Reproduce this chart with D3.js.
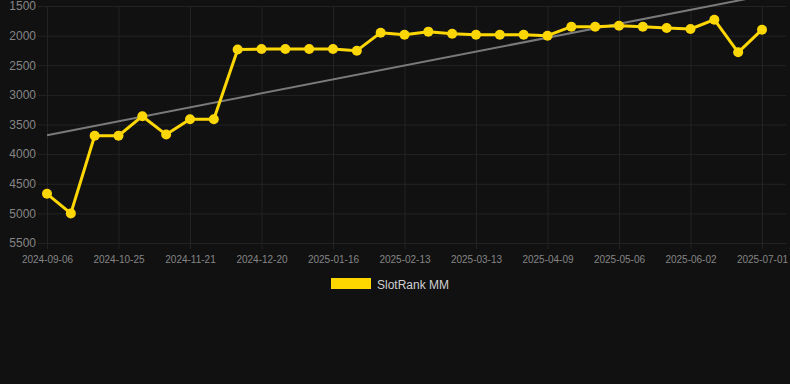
<!DOCTYPE html>
<html>
<head>
<meta charset="utf-8">
<script src="https://cdn.jsdelivr.net/npm/d3@7"></script>
<style>
  html, body { margin: 0; padding: 0; background: #111111; }
  svg { display: block; font-family: "Liberation Sans", Arial, Helvetica, sans-serif; }
</style>
</head>
<body>
<svg id="chart" width="790" height="384"></svg>
<script>
// ---- data ----
const categories = [
  "2024-09-06","2024-09-22","2024-10-09","2024-10-25","2024-11-03","2024-11-12",
  "2024-11-21","2024-11-30","2024-12-10","2024-12-20","2024-12-29","2025-01-07",
  "2025-01-16","2025-01-25","2025-02-04","2025-02-13","2025-02-22","2025-03-04",
  "2025-03-13","2025-03-22","2025-03-31","2025-04-09","2025-04-18","2025-04-27",
  "2025-05-06","2025-05-15","2025-05-24","2025-06-02","2025-06-11","2025-06-20",
  "2025-07-01"
];
const rankValues = [
  4670, 5000, 3690, 3690, 3360, 3670, 3410, 3410, 2235, 2226, 2226, 2226,
  2226, 2254, 1950, 1984, 1933, 1967, 1984, 1984, 1984, 2001, 1849, 1849,
  1832, 1849, 1871, 1888, 1731, 2282, 1900
];
const trendStart = 3680;   // trend value at first category
const trendEnd = 1330;     // trend value at last category
const xTickLabels = [
  "2024-09-06","2024-10-25","2024-11-21","2024-12-20","2025-01-16","2025-02-13",
  "2025-03-13","2025-04-09","2025-05-06","2025-06-02","2025-07-01"
];
const yTicks = [1500, 2000, 2500, 3000, 3500, 4000, 4500, 5000, 5500];
const seriesName = "SlotRank MM";

// ---- layout ----
const svg = d3.select("#chart");
const areaLeft = 47, areaRight = 762, areaTop = 6, areaBottom = 243;
const gridRight = 786, gridLeft = 38, tickBottom = 249;
const yellow = "#FFD700";

const x = d3.scalePoint().domain(categories).range([areaLeft, areaRight]);
const y = d3.scaleLinear().domain([1500, 5500]).range([areaTop, areaBottom]);

// y axis + horizontal grid
const yAxis = d3.axisLeft(y).tickValues(yTicks)
  .tickSizeInner(-(gridRight - gridLeft)).tickSizeOuter(0).tickPadding(2)
  .tickFormat(d3.format("d"));
const gy = svg.append("g").attr("transform", `translate(${gridLeft},0)`).call(yAxis);
gy.select(".domain").remove();
gy.selectAll(".tick line").attr("stroke", "#232323").attr("stroke-width", 1);
gy.selectAll(".tick text").attr("fill", "#858585").attr("font-size", 12)
  .attr("font-family", "Liberation Sans, Arial, sans-serif");

// x axis + vertical grid
const xAxis = d3.axisBottom(x).tickValues(xTickLabels)
  .tickSizeInner(-(tickBottom - areaTop)).tickSizeOuter(0).tickPadding(7);
const gx = svg.append("g").attr("transform", `translate(0,${tickBottom})`).call(xAxis);
gx.select(".domain").remove();
gx.selectAll(".tick line").attr("stroke", "#232323").attr("stroke-width", 1);
gx.selectAll(".tick text").attr("fill", "#858585").attr("font-size", 10)
  .attr("font-family", "Liberation Sans, Arial, sans-serif");

// trend line
svg.append("line")
  .attr("x1", x(categories[0])).attr("y1", y(trendStart))
  .attr("x2", x(categories[categories.length - 1])).attr("y2", y(trendEnd))
  .attr("stroke", "#7a7a7a").attr("stroke-width", 2);

// series line
const data = categories.map((c, i) => ({ c, v: rankValues[i] }));
svg.append("path").datum(data)
  .attr("fill", "none").attr("stroke", yellow).attr("stroke-width", 3)
  .attr("stroke-linejoin", "round")
  .attr("d", d3.line().x(d => x(d.c)).y(d => y(d.v)));

svg.append("g").selectAll("circle").data(data).join("circle")
  .attr("cx", d => x(d.c)).attr("cy", d => y(d.v)).attr("r", 5)
  .attr("fill", yellow);

// legend
svg.append("rect").attr("x", 331).attr("y", 278).attr("width", 40).attr("height", 11)
  .attr("fill", yellow);
svg.append("text").attr("x", 377).attr("y", 289).attr("font-size", 12)
  .attr("fill", "#d0d0d0").text(seriesName);
</script>
</body>
</html>
